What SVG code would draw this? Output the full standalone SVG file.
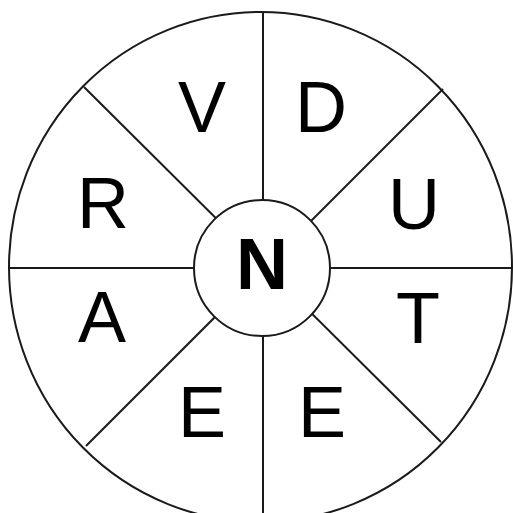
<svg xmlns="http://www.w3.org/2000/svg" width="513" height="513" viewBox="0 0 513 513">
<style>
.ln{stroke:#1a1a1a;stroke-width:2;fill:none}
.lt{font-family:"Liberation Sans",Arial,sans-serif;font-size:72px;fill:#000;text-anchor:middle}
.ctr{font-weight:bold}
</style>
<rect width="513" height="513" fill="#fff"/>
<g id="outer"><ellipse class="ln" cx="260.5" cy="267" rx="251.5" ry="255" fill="#fff"/></g>
<g id="connectors">
<line class="ln" x1="8" y1="268" x2="512" y2="268"/>
<line class="ln" x1="263" y1="12" x2="263" y2="513"/>
<line class="ln" x1="84" y1="87" x2="441" y2="442"/>
<line class="ln" x1="443" y1="89" x2="86" y2="446"/>
</g>
<g id="center"><circle cx="262" cy="268" r="68" fill="#fff" stroke="#1a1a1a" stroke-width="2"/><text class="lt ctr" x="262" y="289">N</text></g>
<g id="seg-V"><text class="lt" x="202" y="132">V</text></g>
<g id="seg-D"><text class="lt" x="321" y="132">D</text></g>
<g id="seg-U"><text class="lt" x="414" y="229">U</text></g>
<g id="seg-T"><text class="lt" x="418" y="343">T</text></g>
<g id="seg-E1"><text class="lt" x="322" y="437">E</text></g>
<g id="seg-E2"><text class="lt" x="202" y="437">E</text></g>
<g id="seg-A"><text class="lt" x="102" y="342">A</text></g>
<g id="seg-R"><text class="lt" x="103" y="228">R</text></g>
</svg>
